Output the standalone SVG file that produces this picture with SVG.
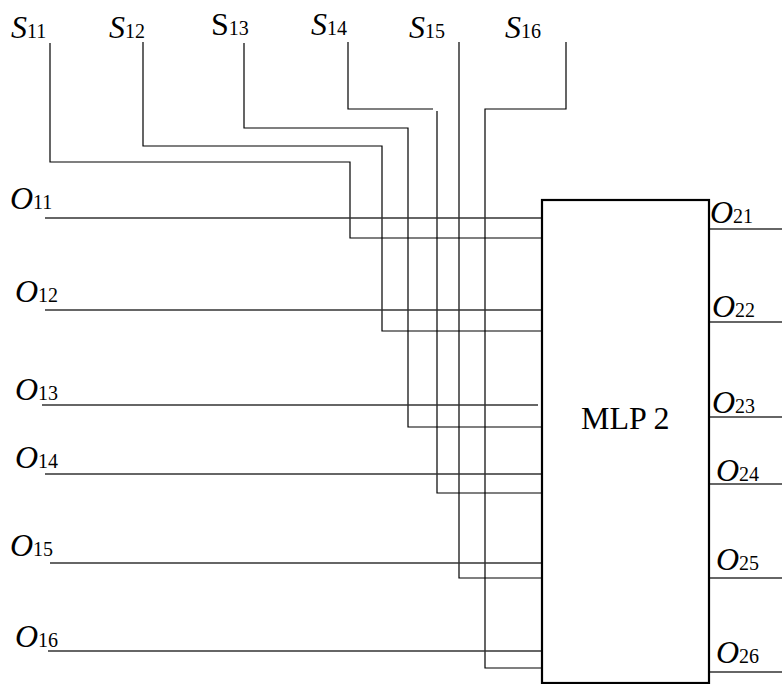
<svg xmlns="http://www.w3.org/2000/svg" width="782" height="684" viewBox="0 0 782 684">
<style>
.w{fill:none;stroke:#000;stroke-width:1.2}
.o{fill:none;stroke:#333;stroke-width:1.5}
.box{fill:#fff;stroke:#000;stroke-width:2.2}
text{font-family:"Liberation Serif","Times New Roman",serif;fill:#000}
.m{font-size:32px;font-style:italic}
.u{font-size:32px}
.s{font-size:20px;font-style:normal}
.c{font-size:32px}
</style>
<rect width="782" height="684" fill="#fff"/>
<g id="connectors">
<polyline class="w" points="50,43 50,162 350,162 350,238 546,238"/>
<polyline class="w" points="143,42 143,146 382,146 382,331 546,331"/>
<polyline class="w" points="244,43 244,128 408,128 408,427 542,427"/>
<polyline class="w" points="348,42 348,109 433,109"/>
<polyline class="w" points="437,111 437,493 542,493"/>
<polyline class="w" points="459,42 459,578 542,578"/>
<polyline class="w" points="566,42 566,109 485,109 485,668 542,668"/>
<line class="o" x1="45" y1="218" x2="542" y2="218"/>
<line class="o" x1="45" y1="310" x2="542" y2="310"/>
<line class="o" x1="42" y1="405" x2="538" y2="405"/>
<line class="o" x1="45" y1="474" x2="542" y2="474"/>
<line class="o" x1="50" y1="563" x2="542" y2="563"/>
<line class="o" x1="48" y1="651" x2="544" y2="651"/>
<line class="o" x1="709" y1="229" x2="782" y2="229"/>
<line class="o" x1="709" y1="322" x2="782" y2="322"/>
<line class="o" x1="709" y1="417" x2="782" y2="417"/>
<line class="o" x1="709" y1="484" x2="782" y2="484"/>
<line class="o" x1="709" y1="578" x2="782" y2="578"/>
<line class="o" x1="709" y1="672" x2="782" y2="672"/>
</g>
<g id="mlp2">
<rect class="box" x="542" y="200" width="167" height="483"/>
<text class="c" x="581" y="429">MLP 2</text>
</g>
<g id="inputs-s">
<text class="m" x="11" y="38">S<tspan class="s">11</tspan></text>
<text class="m" x="109" y="38">S<tspan class="s">12</tspan></text>
<text class="u" x="211" y="35">S<tspan class="s">13</tspan></text>
<text class="m" x="311" y="35">S<tspan class="s">14</tspan></text>
<text class="m" x="409" y="38">S<tspan class="s">15</tspan></text>
<text class="m" x="505" y="38">S<tspan class="s">16</tspan></text>
</g>
<g id="inputs-o">
<text class="m" x="10" y="209">O<tspan class="s">11</tspan></text>
<text class="m" x="15" y="302">O<tspan class="s">12</tspan></text>
<text class="m" x="15" y="400">O<tspan class="s">13</tspan></text>
<text class="m" x="15" y="468">O<tspan class="s">14</tspan></text>
<text class="m" x="10" y="556">O<tspan class="s">15</tspan></text>
<text class="m" x="15" y="647">O<tspan class="s">16</tspan></text>
</g>
<g id="outputs-o">
<text class="m" x="710" y="223">O<tspan class="s">21</tspan></text>
<text class="m" x="712" y="317">O<tspan class="s">22</tspan></text>
<text class="m" x="712" y="413">O<tspan class="s">23</tspan></text>
<text class="m" x="716" y="481">O<tspan class="s">24</tspan></text>
<text class="m" x="716" y="570">O<tspan class="s">25</tspan></text>
<text class="m" x="716" y="663">O<tspan class="s">26</tspan></text>
</g>
</svg>
